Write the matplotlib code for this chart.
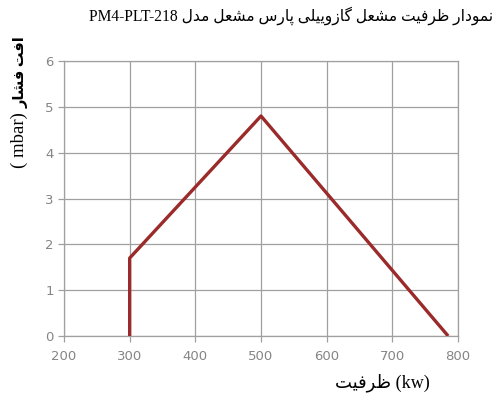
import matplotlib
matplotlib.use("Agg")
import matplotlib.pyplot as plt

# data
capacity_kw = [300, 300, 500, 785]
pressure_mbar = [0, 1.7, 4.8, 0]
x_ticks = [200, 300, 400, 500, 600, 700, 800]
y_ticks = [0, 1, 2, 3, 4, 5, 6]

title_fa = "نمودار ظرفیت مشعل گازوییلی پارس مشعل مدل"
model = "PM4-PLT-218"
ylabel_fa = "افت فشار"
xlabel_fa = "ظرفیت"

# matplotlib has no arabic shaping, so do it by hand with presentation forms
# letter: (isolated, final, initial, medial) ; None = does not join forward
FORMS = {
    "ا": (0xFE8D, 0xFE8E, None, None),
    "د": (0xFEA9, 0xFEAA, None, None),
    "ر": (0xFEAD, 0xFEAE, None, None),
    "ز": (0xFEAF, 0xFEB0, None, None),
    "و": (0xFEED, 0xFEEE, None, None),
    "ن": (0xFEE5, 0xFEE6, 0xFEE7, 0xFEE8),
    "م": (0xFEE1, 0xFEE2, 0xFEE3, 0xFEE4),
    "ظ": (0xFEC5, 0xFEC6, 0xFEC7, 0xFEC8),
    "ف": (0xFED1, 0xFED2, 0xFED3, 0xFED4),
    "ت": (0xFE95, 0xFE96, 0xFE97, 0xFE98),
    "ش": (0xFEB5, 0xFEB6, 0xFEB7, 0xFEB8),
    "ع": (0xFEC9, 0xFECA, 0xFECB, 0xFECC),
    "ل": (0xFEDD, 0xFEDE, 0xFEDF, 0xFEE0),
    "س": (0xFEB1, 0xFEB2, 0xFEB3, 0xFEB4),
    "ی": (0xFBFC, 0xFBFD, 0xFBFE, 0xFBFF),
    "گ": (0xFB92, 0xFB93, 0xFB94, 0xFB95),
    "پ": (0xFB56, 0xFB57, 0xFB58, 0xFB59),
}


def shape(text):
    out = []
    for i, ch in enumerate(text):
        if ch not in FORMS:
            out.append(ch)
            continue
        prev = text[i - 1] if i > 0 else ""
        nxt = text[i + 1] if i + 1 < len(text) else ""
        join_prev = prev in FORMS and FORMS[prev][2] is not None
        join_next = nxt in FORMS and FORMS[ch][2] is not None
        iso, fin, ini, med = FORMS[ch]
        if join_prev and join_next:
            out.append(chr(med))
        elif join_prev:
            out.append(chr(fin))
        elif join_next:
            out.append(chr(ini))
        else:
            out.append(chr(iso))
    return "".join(out)[::-1]


fonts = ["Liberation Serif", "DejaVu Sans"]

fig = plt.figure(figsize=(5, 4), dpi=100)
ax = fig.add_axes([0.128, 0.16, 0.788, 0.6875])

ax.plot(capacity_kw, pressure_mbar, color="#9B2B2B", lw=2.4, solid_capstyle="butt", zorder=3)

ax.set_xlim(200, 800)
ax.set_ylim(0, 6)
ax.set_xticks(x_ticks)
ax.set_yticks(y_ticks)
ax.grid(True, color="#a0a0a0", lw=0.9)
ax.set_axisbelow(True)
for s in ax.spines.values():
    s.set_color("#a0a0a0")
    s.set_linewidth(0.9)
ax.tick_params(colors="#a0a0a0", labelsize=9.5, length=4, width=0.9)
ax.tick_params(axis="x", pad=6)
for lab in ax.get_xticklabels() + ax.get_yticklabels():
    lab.set_color("#858585")
    lab.set_family("DejaVu Sans")

fig.text(0.986, 0.962, model + " " + shape(title_fa), ha="right", va="center",
         fontsize=11.2, family=fonts)
fig.text(0.042, 0.82, shape(ylabel_fa), rotation=90, ha="center",
         va="center", fontsize=10.5, family=fonts, fontweight="bold")
fig.text(0.038, 0.65, "( mbar)", rotation=90, ha="center",
         va="center", fontsize=13.5, family=fonts)
fig.text(0.765, 0.044, shape(xlabel_fa) + " (kw)", ha="center", va="center",
         fontsize=13, family=fonts)

fig.savefig("out.png", dpi=100)
